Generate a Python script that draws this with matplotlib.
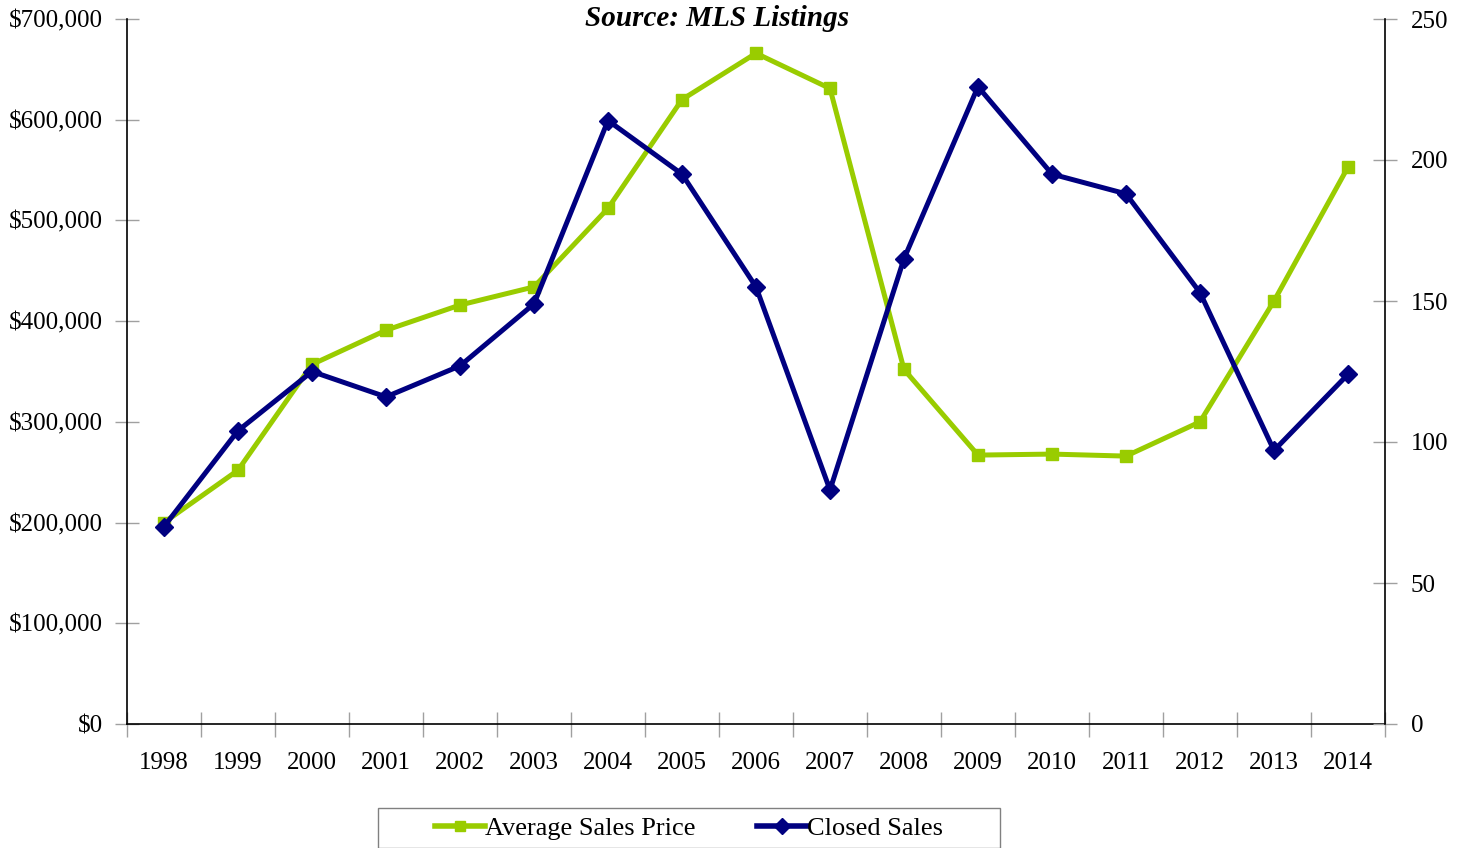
import matplotlib
matplotlib.use("Agg")
import matplotlib.pyplot as plt
from matplotlib.ticker import FuncFormatter, FixedLocator
from matplotlib.lines import Line2D
from matplotlib.patches import Rectangle

years = ["1998", "1999", "2000", "2001", "2002", "2003", "2004", "2005", "2006",
         "2007", "2008", "2009", "2010", "2011", "2012", "2013", "2014"]
avg_price = [200000, 252000, 357000, 391000, 416000, 434000, 512000, 620000, 666000,
             631000, 352000, 267000, 268000, 266000, 300000, 420000, 553000]
closed_sales = [70, 104, 125, 116, 127, 149, 214, 195, 155, 83, 165, 226, 195, 188,
                153, 97, 124]

plt.rcParams['font.family'] = ['Liberation Serif', 'DejaVu Serif']

GREEN = "#99CC00"
NAVY = "#000080"
TICKC = "#A0A0A0"
W, H = 1463, 848

fig = plt.figure(figsize=(W / 100, H / 100), dpi=100)
ax = fig.add_axes([127 / W, 124 / H, (1385 - 127) / W, (724 - 19) / H])
ax2 = ax.twinx()

x = list(range(len(years)))
ax.plot(x, avg_price, color=GREEN, lw=3.6, marker='s', ms=8, zorder=3)
ax2.plot(x, closed_sales, color=NAVY, lw=3.6, marker='D', ms=9, zorder=3)

ax.set_xlim(-0.5, len(years) - 0.5)
ax.set_ylim(0, 700000)
ax2.set_ylim(0, 250)
ax.set_yticks(range(0, 700001, 100000))
ax.yaxis.set_major_formatter(FuncFormatter(lambda v, p: f"${int(v):,}"))
ax2.set_yticks(range(0, 251, 50))

ax.set_xticks(x)
ax.set_xticklabels(years)
ax.xaxis.set_minor_locator(FixedLocator([i - 0.5 for i in range(len(years) + 1)]))
ax.tick_params(axis='x', which='major', length=0, pad=20, labelsize=18)
ax.tick_params(axis='x', which='minor', length=18, direction='inout', color=TICKC, width=1)
ax.tick_params(axis='y', length=17, direction='inout', color=TICKC, width=1, labelsize=18, pad=9)
ax2.tick_params(axis='y', length=17, direction='inout', color=TICKC, width=1, labelsize=18, pad=10)

for a in (ax, ax2):
    a.spines['top'].set_visible(False)
    for s in ('left', 'right', 'bottom'):
        a.spines[s].set_linewidth(1.2)
        a.spines[s].set_color('black')
ax2.spines['left'].set_visible(False)
ax2.spines['bottom'].set_visible(False)
ax.spines['right'].set_visible(False)

fig.text(717 / W, 1 - 18 / H, "Source: MLS Listings", ha='center', va='center',
         fontsize=21, fontweight='bold', fontstyle='italic')

# legend frame
fig.patches.append(Rectangle((378 / W, 0.0), (1000 - 378) / W, (H - 808) / H,
                             transform=fig.transFigure, fill=False,
                             edgecolor='#808080', linewidth=1.0))
handles = [Line2D([], [], color=GREEN, lw=4, marker='s', ms=7),
           Line2D([], [], color=NAVY, lw=4, marker='D', ms=8)]
leg = fig.legend(handles, ["Average Sales Price", "Closed Sales"], loc='center',
                 bbox_to_anchor=(689 / W, 1 - 828 / H), ncol=2, fontsize=19,
                 frameon=False, handlelength=1.9, handletextpad=0.0,
                 columnspacing=2.3, borderpad=0.2, borderaxespad=0)

fig.savefig("out.png", dpi=100)
